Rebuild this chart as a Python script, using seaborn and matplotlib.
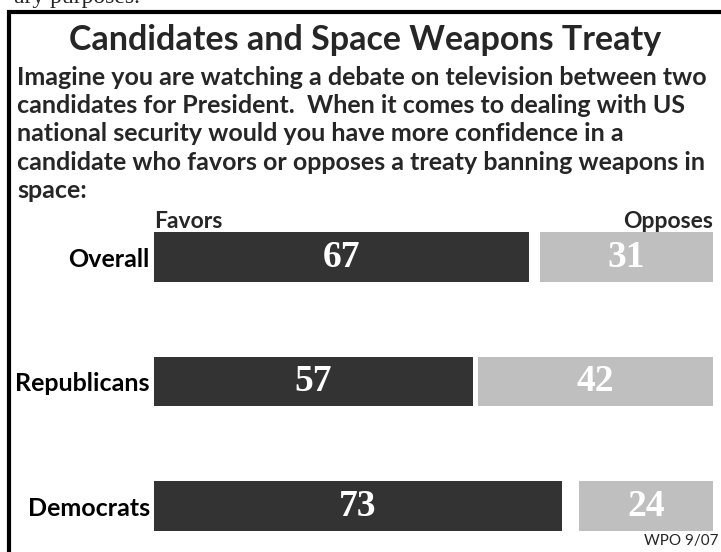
import numpy as np
import pandas as pd
import seaborn as sns
import matplotlib.pyplot as plt
from matplotlib.patches import Rectangle

# data
groups = ["Overall", "Republicans", "Democrats"]
favors = [67, 57, 73]
opposes = [31, 42, 24]
total = [100, 100, 100]

W, H = 721, 552
dark = "#333333"
light = "#bfbfbf"

sns.set_theme(style="white")
plt.rcParams['font.family'] = ['Lato', 'DejaVu Sans']

fig = plt.figure(figsize=(W / 100, H / 100), dpi=100)

def px(x, y):
    return x / W, 1 - y / H

# axes: x 0..100 maps to px 154..713, rows centred at 257, 381.5, 506
top_px, bot_px = 200, 540
ax = fig.add_axes([154 / W, 1 - bot_px / H, 559 / W, (bot_px - top_px) / H])

df = pd.DataFrame({"group": groups, "favors": favors, "opposes": opposes, "total": total})
df["gap_end"] = df["total"] - df["opposes"]

# opposes bars are right aligned at 100: gray full bar, white up to the gap, dark favors on top
sns.barplot(data=df, x="total", y="group", color=light, width=0.4, linewidth=0, saturation=1, ax=ax)
sns.barplot(data=df, x="gap_end", y="group", color="white", width=0.4, linewidth=0, saturation=1, ax=ax)
sns.barplot(data=df, x="favors", y="group", color=dark, width=0.4, linewidth=0, saturation=1, ax=ax)

ax.set_xlim(0, 100)
ax.set_ylim((bot_px - 257) / 124.5, (top_px - 257) / 124.5)
ax.set_xlabel("")
ax.set_ylabel("")
ax.set_xticks([])
ax.tick_params(axis="y", length=0, pad=3)
for lab in ax.get_yticklabels():
    lab.set_fontsize(18)
    lab.set_fontweight("bold")
    lab.set_color("black")
sns.despine(ax=ax, left=True, bottom=True)
ax.set_facecolor("none")

for i in range(len(groups)):
    ax.text(favors[i] / 2, i, str(favors[i]), ha="center", va="center", color="white",
            fontsize=27, fontweight="bold", family="Liberation Serif")
    ax.text(total[i] - opposes[i] / 2, i, str(opposes[i]), ha="center", va="center", color="white",
            fontsize=27, fontweight="bold", family="Liberation Serif")

# frame
fig.patches.append(Rectangle(px(9, 600), 800 / W, 588 / H, transform=fig.transFigure,
                             fill=False, edgecolor="black", linewidth=3))

fig.text(*px(14, 3), "ary purposes.", ha="left", va="baseline", fontsize=17, family="Liberation Serif")

fig.text(*px(365, 40), "Candidates and Space Weapons Treaty", ha="center", va="center",
         fontsize=24.5, fontweight="bold")

subtitle = ["Imagine you are watching a debate on television between two",
            "candidates for President.  When it comes to dealing with US",
            "national security would you have more confidence in a",
            "candidate who favors or opposes a treaty banning weapons in",
            "space:"]
for k, line in enumerate(subtitle):
    fig.text(*px(17, 77 + 28.4 * k), line, ha="left", va="center", fontsize=18, fontweight="bold")

fig.text(*px(154, 221), "Favors", ha="left", va="center", fontsize=16.5, fontweight="bold")
fig.text(*px(713, 221), "Opposes", ha="right", va="center", fontsize=16.5, fontweight="bold")
fig.text(*px(718, 541), "WPO 9/07", ha="right", va="center", fontsize=11)

fig.savefig("out.png", dpi=100)
